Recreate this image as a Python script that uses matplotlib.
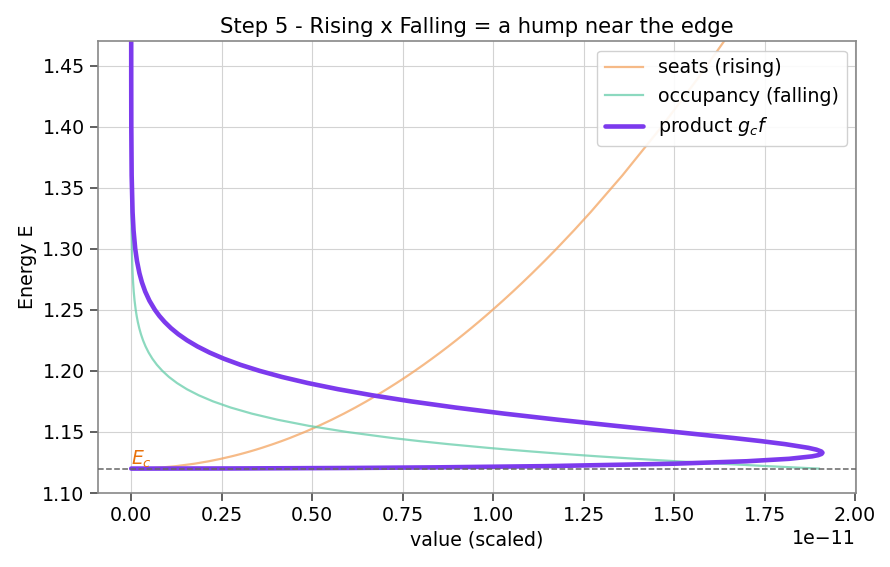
import matplotlib
matplotlib.use("Agg")
import matplotlib.pyplot as plt

# Energy grid (eV), shared by all three curves
energy = [1.1200, 1.1201, 1.1205, 1.1210, 1.1220, 1.1240, 1.1260, 1.1280, 1.1300,
          1.1310, 1.1320, 1.1330, 1.1340, 1.1355, 1.1370, 1.1400, 1.1425, 1.1450,
          1.1500, 1.1550, 1.1600, 1.1650, 1.1700, 1.1750, 1.1800, 1.1850, 1.1900,
          1.1950, 1.2000, 1.2050, 1.2100, 1.2150, 1.2200, 1.2250, 1.2300, 1.2350,
          1.2400, 1.2450, 1.2500, 1.2575, 1.2650, 1.2725, 1.2800, 1.2900, 1.3000,
          1.3150, 1.3300, 1.3600, 1.4000, 1.4400, 1.4800, 1.5000]

# values in units of 1e-11
seats = [0.0, 0.0277, 0.0619, 0.0876, 0.1239, 0.1752, 0.2146, 0.2478, 0.2770,
         0.2905, 0.3034, 0.3158, 0.3278, 0.3449, 0.3612, 0.3917, 0.4155, 0.4380,
         0.4798, 0.5182, 0.5540, 0.5876, 0.6194, 0.6496, 0.6785, 0.7062, 0.7329,
         0.7586, 0.7835, 0.8076, 0.8310, 0.8538, 0.8760, 0.8976, 0.9187, 0.9394,
         0.9596, 0.9793, 0.9987, 1.0271, 1.0548, 1.0817, 1.1080, 1.1421, 1.1752,
         1.2232, 1.2694, 1.3570, 1.4657, 1.5669, 1.6620, 1.7075]
occupancy = [1.900, 1.8927, 1.8636, 1.8279, 1.7585, 1.6276, 1.5064, 1.3943, 1.2905,
             1.2415, 1.1944, 1.1491, 1.1055, 1.0431, 0.9844, 0.8765, 0.7957, 0.7223,
             0.5953, 0.4906, 0.4043, 0.3332, 0.2746, 0.2263, 0.1866, 0.1537, 0.1267,
             0.1044, 0.0861, 0.0709, 0.05845, 0.04816, 0.0397, 0.03271, 0.02696, 0.02222,
             0.01831, 0.01509, 0.01244, 0.0093, 0.00696, 0.00521, 0.0039, 0.00265, 0.0018,
             0.001006, 0.000564, 0.000177, 0.0000376, 0.000008, 0.0, 0.0]
product = [0.0, 0.2759, 0.6075, 0.8426, 1.1464, 1.5005, 1.7010, 1.8179, 1.8811,
           1.8981, 1.9073, 1.9098, 1.9067, 1.8931, 1.8708, 1.8069, 1.7398, 1.6648,
           1.5030, 1.3380, 1.1787, 1.0305, 0.8952, 0.7737, 0.6661, 0.5713, 0.4886,
           0.4168, 0.3549, 0.3014, 0.2556, 0.2164, 0.1830, 0.1545, 0.1303, 0.1098,
           0.0925, 0.0778, 0.0654, 0.0503, 0.0386, 0.0296, 0.0227, 0.0159, 0.0111,
           0.00648, 0.00377, 0.00126, 0.00029, 0.00007, 0.00001, 0.0]

E_c = 1.12
scale = 1e-11

fig = plt.figure(figsize=(8.9, 5.67), dpi=100)
ax = fig.add_axes([0.110, 0.1305, 0.852, 0.797])

ax.plot([v * scale for v in seats], energy, color="#f4a460", alpha=0.75, lw=1.6,
        label="seats (rising)")
ax.plot([v * scale for v in occupancy], energy, color="#66cdaa", alpha=0.75, lw=1.6,
        label="occupancy (falling)")
ax.plot([v * scale for v in product], energy, color="#7c3aed", lw=3.3,
        solid_joinstyle="round", solid_capstyle="round", label="product $g_c f$")
ax.axhline(E_c, color="#666666", ls="--", lw=1.1, zorder=5)
ax.text(0.0, E_c + 0.003, "$E_c$", color="#e8710a", fontsize=13.5)

ax.set_xlim(-0.092e-11, 2.003e-11)
ax.set_ylim(1.10, 1.47)
ax.set_xticks([i * 0.25e-11 for i in range(9)])
ax.set_yticks([1.10, 1.15, 1.20, 1.25, 1.30, 1.35, 1.40, 1.45])
ax.grid(True, color="#d3d3d3", lw=0.8)
ax.set_axisbelow(True)
for s in ax.spines.values():
    s.set_color("#888888")
    s.set_linewidth(1.2)
ax.tick_params(labelsize=13.7, color="#444444", length=6, width=1.2)
ax.xaxis.get_offset_text().set_fontsize(13.7)

ax.set_title("Step 5 - Rising x Falling = a hump near the edge", fontsize=15.2)
ax.set_xlabel("value (scaled)", fontsize=13.7)
ax.set_ylabel("Energy E", fontsize=13.7)
ax.legend(loc="upper right", fontsize=13.7, edgecolor="#cccccc", framealpha=0.9)

fig.savefig("out.png", dpi=100)
